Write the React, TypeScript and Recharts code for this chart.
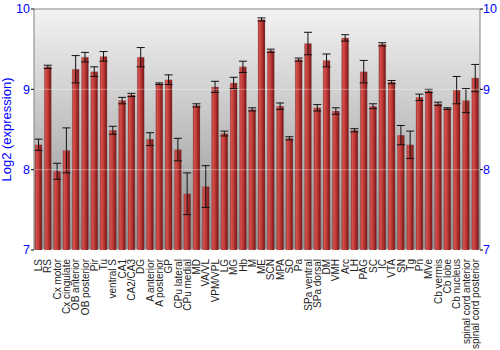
import React from 'react';
import { BarChart, Bar, XAxis, YAxis, CartesianGrid, ErrorBar, ReferenceLine } from 'recharts';

const regions = [
  'LS', 'RS', 'Cx motor', 'Cx cingulate', 'OB anterior', 'OB posterior', 'Pir', 'Tu',
  'ventral S', 'CA1', 'CA2/CA3', 'DG', 'A anterior', 'A posterior', 'GP', 'CPu lateral',
  'CPu medial', 'MD', 'VA/VL', 'VPM/VPL', 'LG', 'MG', 'Hb', 'M', 'ME', 'SCN', 'MPA', 'SO',
  'Pa', 'SPa ventral', 'SPa dorsal', 'DM', 'VMH', 'Arc', 'LH', 'PAG', 'SC', 'IC', 'VTA',
  'SN', 'Tg', 'Pn', 'MVe', 'Cb vermis', 'Cb lobe', 'Cb nucleus', 'spinal cord anterior',
  'spinal cord posterior',
];

const expression = [
  8.31, 9.28, 7.98, 8.24, 9.25, 9.40, 9.22, 9.41,
  8.49, 8.86, 8.93, 9.40, 8.38, 9.07, 9.12, 8.25,
  7.70, 8.80, 7.79, 9.03, 8.45, 9.08, 9.28, 8.75, 9.87, 9.48, 8.79, 8.39,
  9.37, 9.57, 8.77, 9.36, 8.73, 9.64, 8.49, 9.22, 8.79, 9.56, 9.09,
  8.43, 8.31, 8.90, 8.98, 8.82, 8.76, 8.99, 8.86,
  9.14,
];

const errors = [
  0.07, 0.02, 0.10, 0.28, 0.17, 0.06, 0.06, 0.06,
  0.05, 0.04, 0.02, 0.12, 0.08, 0.01, 0.06, 0.14,
  0.26, 0.02, 0.26, 0.07, 0.03, 0.07, 0.07, 0.02, 0.02, 0.02, 0.04, 0.02,
  0.02, 0.14, 0.04, 0.08, 0.04, 0.04, 0.02, 0.14, 0.03, 0.02, 0.02,
  0.12, 0.17, 0.04, 0.02, 0.02, 0.01, 0.17, 0.15,
  0.17,
];

const yTicks = [7, 8, 9, 10];

const data = regions.map((name, i) => ({ name, value: expression[i], err: errors[i] }));

const RotatedTick = (props: any) => {
  const { x, y, payload } = props;
  return (
    <text
      x={x}
      y={y + 1}
      transform={`rotate(-90, ${x}, ${y + 1})`}
      textAnchor="end"
      dominantBaseline="central"
      fontSize={10}
      fontFamily="Arial, 'Liberation Sans', sans-serif"
      fill="#222"
    >
      {payload.value}
    </text>
  );
};

const blueTick = { fill: '#0000ff', fontSize: 12.5, fontFamily: "Arial, 'Liberation Sans', sans-serif" };

export default function App() {
  return (
    <div style={{ position: 'absolute', left: 0, top: 0, width: 500, height: 350, background: '#fff' }}>
      <BarChart
        width={500}
        height={350}
        data={data}
        margin={{ top: 9, right: 0, bottom: 0, left: 0 }}
        barCategoryGap={1}
      >
        <defs>
          <linearGradient id="bgGrad" x1="0" y1="0" x2="0" y2="1">
            <stop offset="0%" stopColor="#f3f3f3" />
            <stop offset="100%" stopColor="#8e8e8e" />
          </linearGradient>
          <linearGradient id="barGrad" x1="0" y1="0" x2="1" y2="0">
            <stop offset="0%" stopColor="#a02a2a" />
            <stop offset="20%" stopColor="#d4504b" />
            <stop offset="55%" stopColor="#bb3634" />
            <stop offset="100%" stopColor="#6e1212" />
          </linearGradient>
        </defs>
        <CartesianGrid vertical={false} stroke="#ffffff" strokeWidth={1.5} fill="url(#bgGrad)" fillOpacity={1} />
        <XAxis
          dataKey="name"
          interval={0}
          tick={<RotatedTick />}
          tickLine={false}
          axisLine={false}
          height={100}
        />
        <YAxis
          yAxisId="left"
          domain={[7, 10]}
          ticks={yTicks}
          allowDataOverflow
          width={34}
          tick={blueTick}
          tickSize={3}
          tickMargin={1}
          tickLine={{ stroke: '#000' }}
          axisLine={{ stroke: '#808080' }}
          label={{
            value: 'Log2 (expression)',
            angle: -90,
            position: 'insideLeft',
            offset: 6,
            style: { fill: '#0000ff', fontSize: 13, fontFamily: "Arial, 'Liberation Sans', sans-serif", textAnchor: 'middle' },
          }}
        />
        <YAxis
          yAxisId="right"
          orientation="right"
          domain={[7, 10]}
          ticks={yTicks}
          allowDataOverflow
          width={20}
          tick={blueTick}
          tickSize={3}
          tickMargin={0}
          tickLine={{ stroke: '#000' }}
          axisLine={{ stroke: '#808080' }}
        />
        <Bar yAxisId="left" dataKey="value" fill="url(#barGrad)" stroke="#8a8a8a" strokeOpacity={0.5} strokeWidth={0.5} isAnimationActive={false}>
          <ErrorBar dataKey="err" width={4} stroke="#111" strokeWidth={1} isAnimationActive={false} />
        </Bar>
        <ReferenceLine yAxisId="left" y={8} stroke="#ffffff" strokeOpacity={0.35} />
        <ReferenceLine yAxisId="left" y={9} stroke="#ffffff" strokeOpacity={0.35} />
        <ReferenceLine yAxisId="left" y={10} stroke="#808080" />
      </BarChart>
    </div>
  );
}
